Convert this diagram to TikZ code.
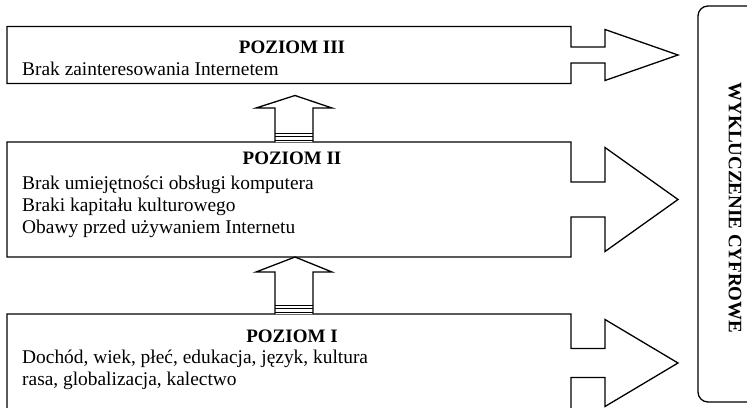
\documentclass[tikz,border=0pt]{standalone}
\usepackage{fontspec}
\setmainfont{Liberation Serif}
\usetikzlibrary{calc}
\tikzset{
  outline/.style={line width=1.3pt, line join=miter},
  boxnode/.style={inner sep=0pt, outer sep=0pt, anchor=north west},
  title/.style={font=\fontsize{19}{22}\selectfont\bfseries, anchor=base, inner sep=0pt},
  body/.style={font=\fontsize{19.4}{22}\selectfont, anchor=base west, inner sep=0pt},
}
% #1 node name, #2 shaft half width, #3 head half width
\newcommand{\boxarrow}[3]{%
  \draw[outline] (#1.north west) -- (#1.north east)
    -- ($(#1.east)+(0,-#2)$) -- ($(#1.east)+(34,-#2)$)
    -- ($(#1.east)+(34,-#3)$) -- ($(#1.east)+(107,0)$)
    -- ($(#1.east)+(34,#3)$) -- ($(#1.east)+(34,#2)$)
    -- ($(#1.east)+(0,#2)$) -- (#1.south east)
    -- (#1.south west) -- cycle;}
% up arrow: #1 base centre, #2 tip, #3 shaft length
\newcommand{\uparrowshape}[3]{%
  \draw[outline, fill=white] ($(#1)+(-19,0)$) -- ($(#1)+(-19,-#3)$) -- ($(#1)+(-38,-#3)$)
    -- (#2) -- ($(#1)+(38,-#3)$) -- ($(#1)+(19,-#3)$) -- ($(#1)+(19,0)$);
  \draw[line width=0.9pt] ($(#1)+(-19,-9)$) -- ($(#1)+(19,-9)$);
  \draw[line width=0.9pt] ($(#1)+(-19,-5.5)$) -- ($(#1)+(19,-5.5)$);
  \draw[line width=0.9pt] ($(#1)+(-19,-2)$) -- ($(#1)+(19,-2)$);}
\begin{document}
\begin{tikzpicture}[x=1pt, y=-1pt]
\useasboundingbox (0,0) rectangle (747,407);
\clip (0,0) rectangle (747,407);
\fill[white] (0,0) rectangle (747,407);

% boxes
\node[boxnode, minimum width=564pt, minimum height=57pt] (b3) at (7,26.5) {};
\node[boxnode, minimum width=564pt, minimum height=115pt] (b2) at (7,142) {};
\node[boxnode, minimum width=564pt, minimum height=98pt] (b1) at (7,314) {};

\boxarrow{b3}{8}{25.5}
\boxarrow{b2}{17.5}{52}
\boxarrow{b1}{14.5}{43.5}

% up arrows between levels
\coordinate (a1base) at ($(b2.north west)+(287,0)$);
\coordinate (a1tip) at ($(b3.south west)+(288,12)$);
\coordinate (a2base) at ($(b1.north west)+(287,0)$);
\coordinate (a2tip) at ($(b2.south west)+(288,0)$);
\uparrowshape{a1base}{a1tip}{34}
\uparrowshape{a2base}{a2tip}{42}

% right rounded box
\node[boxnode, draw, line width=1.3pt, rounded corners=10pt, minimum width=80pt, minimum height=396pt] (wc) at (698,6) {};
\node[title, anchor=center, rotate=-90] (wct) at (735,208) {WYKLUCZENIE CYFROWE};

% texts level III
\node[title] (t3) at (292,53) {POZIOM III};
\node[body] (l31) at (22,75) {Brak zainteresowania Internetem};

% texts level II
\node[title] (t2) at (292,164) {POZIOM II};
\node[body] (l21) at (22,189) {Brak umiejętności obsługi komputera};
\node[body] (l22) at (22,211) {Braki kapitału kulturowego};
\node[body] (l23) at (22,233) {Obawy przed używaniem Internetu};

% texts level I
\node[title] (t1) at (292,342) {POZIOM I};
\node[body] (l11) at (22,363) {Dochód, wiek, płeć, edukacja, język, kultura};
\node[body] (l12) at (22,385) {rasa, globalizacja, kalectwo};
\end{tikzpicture}
\end{document}
